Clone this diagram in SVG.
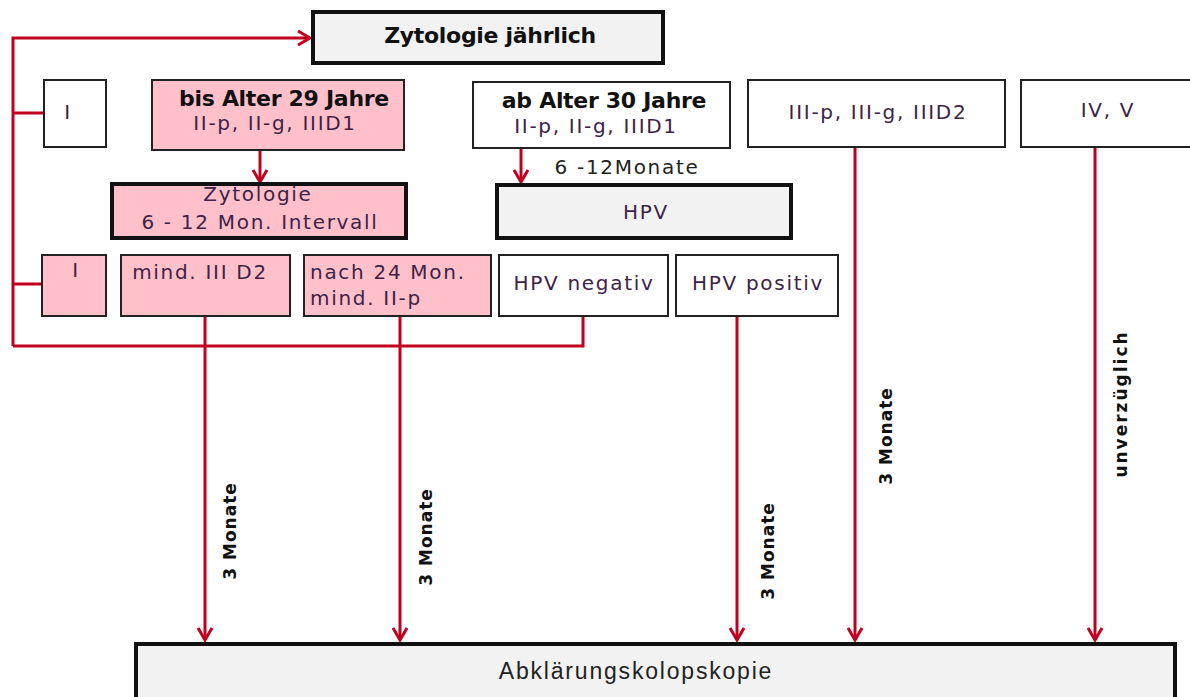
<svg xmlns="http://www.w3.org/2000/svg" width="1190" height="697" viewBox="0 0 1190 697">
<style>
.box{stroke:#222;stroke-width:2}
.thick{stroke:#111;stroke-width:4}
.pink{fill:#ffc0ca}
.white{fill:#fff}
.grey{fill:#f2f2f2}
.t{font-family:"DejaVu Sans",Verdana,sans-serif;font-size:20px;letter-spacing:1.7px;fill:#3e2248;text-anchor:middle}
.b{font-family:"DejaVu Sans",Verdana,sans-serif;font-size:22px;font-weight:bold;fill:#111;text-anchor:middle;letter-spacing:-0.3px}
.r{font-family:"DejaVu Sans",Verdana,sans-serif;font-size:17px;font-weight:bold;fill:#111;text-anchor:middle;letter-spacing:1px}
.n{font-family:"Liberation Sans",Arial,sans-serif;font-size:23px;fill:#222;text-anchor:middle;letter-spacing:1.8px}
.c{fill:none;stroke:#c0001e;stroke-width:3}
</style>
<defs>
<marker id="ah" viewBox="0 0 16 16" refX="14" refY="8" markerWidth="16" markerHeight="16" markerUnits="userSpaceOnUse" orient="auto">
<path d="M2,1 L14,8 L2,15" fill="none" stroke="#c0001e" stroke-width="3"/>
</marker>
</defs>
<g id="connectors">
<path class="c" d="M13,346 L13,38 L310,38" marker-end="url(#ah)"/>
<path class="c" d="M13,113 L44,113"/>
<path class="c" d="M13,284 L42,284"/>
<path class="c" d="M13,346 L583,346 L583,316"/>
<path class="c" d="M260,150 L260,182" marker-end="url(#ah)"/>
<path class="c" d="M521,145 L521,182" marker-end="url(#ah)"/>
<path class="c" d="M205,316 L205,640" marker-end="url(#ah)"/>
<path class="c" d="M400,316 L400,640" marker-end="url(#ah)"/>
<path class="c" d="M737,316 L737,640" marker-end="url(#ah)"/>
<path class="c" d="M855,147 L855,640" marker-end="url(#ah)"/>
<path class="c" d="M1095,147 L1095,640" marker-end="url(#ah)"/>
<text class="t" x="627" y="174" style="fill:#222">6 -12Monate</text>
<text class="r" transform="translate(236,531) rotate(-90)">3 Monate</text>
<text class="r" transform="translate(432,537) rotate(-90)">3 Monate</text>
<text class="r" transform="translate(774,551) rotate(-90)">3 Monate</text>
<text class="r" transform="translate(892,436) rotate(-90)">3 Monate</text>
<text class="r" transform="translate(1127,404) rotate(-90)" style="letter-spacing:2px">unverzüglich</text>
</g>
<g id="zyt-jaehrlich"><rect class="thick grey" x="313" y="12" width="350" height="51"/><text class="b" x="490" y="43">Zytologie jährlich</text></g>
<g id="i-top"><rect class="box white" x="44" y="80" width="62" height="67"/><text class="t" x="68" y="119">I</text></g>
<g id="bis29"><rect class="box pink" x="152" y="80" width="252" height="70"/><text class="b" x="284" y="106">bis Alter 29 Jahre</text><text class="t" x="275" y="130">II-p, II-g, IIID1</text></g>
<g id="ab30"><rect class="box white" x="473" y="82" width="257" height="66"/><text class="b" x="604" y="108">ab Alter 30 Jahre</text><text class="t" x="596" y="133">II-p, II-g, IIID1</text></g>
<g id="iii"><rect class="box white" x="748" y="80" width="257" height="67"/><text class="t" x="878" y="119">III-p, III-g, IIID2</text></g>
<g id="iv"><rect class="box white" x="1021" y="80" width="180" height="67"/><text class="t" x="1108" y="117">IV, V</text></g>
<g id="zyt-intervall"><rect class="thick pink" x="112" y="184" width="294" height="54"/><text class="t" x="258" y="201">Zytologie</text><text class="t" x="260" y="229">6 - 12 Mon. Intervall</text></g>
<g id="hpv"><rect class="thick grey" x="497" y="185" width="294" height="53"/><text class="t" x="646" y="219">HPV</text></g>
<g id="i-pink"><rect class="box pink" x="42" y="255" width="64" height="61"/><text class="t" x="76" y="277">I</text></g>
<g id="mind-iiid2"><rect class="box pink" x="121" y="255" width="169" height="61"/><text class="t" x="200" y="279">mind. III D2</text></g>
<g id="nach24"><rect class="box pink" x="304" y="255" width="187" height="61"/><text class="t" x="310" y="279" style="text-anchor:start">nach 24 Mon.</text><text class="t" x="310" y="305" style="text-anchor:start">mind.  II-p</text></g>
<g id="hpv-neg"><rect class="box white" x="499" y="255" width="169" height="61"/><text class="t" x="584" y="290">HPV negativ</text></g>
<g id="hpv-pos"><rect class="box white" x="676" y="255" width="162" height="61"/><text class="t" x="758" y="290">HPV positiv</text></g>
<g id="abklaerung"><rect class="thick grey" x="136" y="644" width="1039" height="60"/><text class="n" x="636" y="679">Abklärungskolopskopie</text></g>
</svg>
